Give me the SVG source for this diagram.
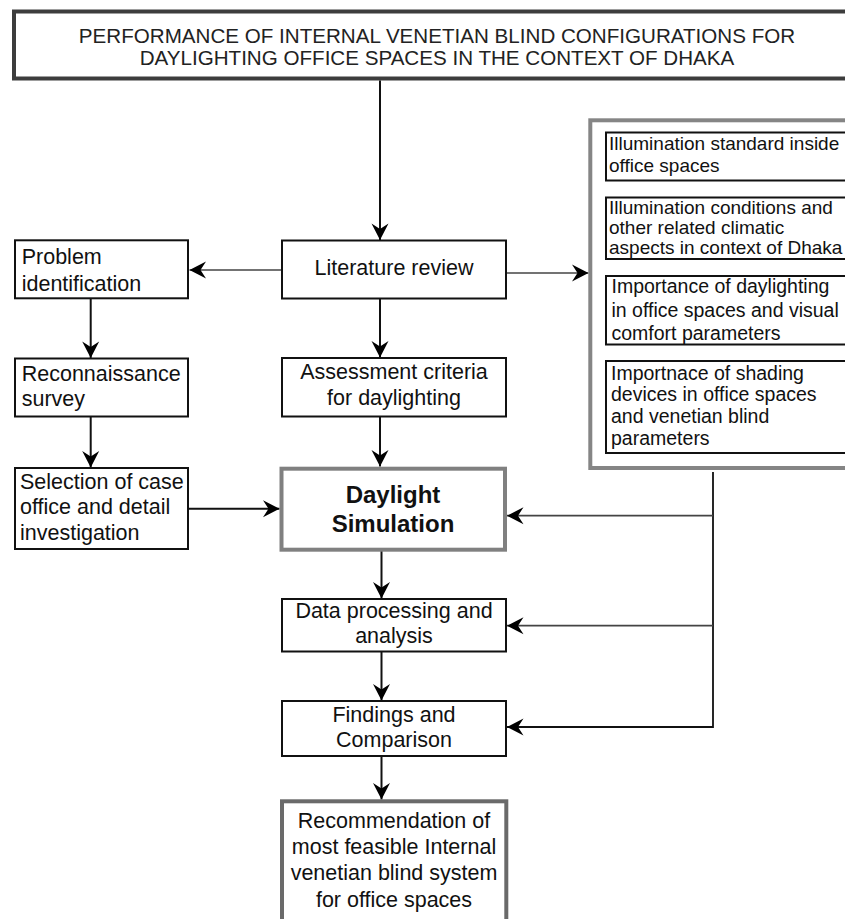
<svg xmlns="http://www.w3.org/2000/svg" width="845" height="919" viewBox="0 0 845 919">
<defs>
<marker id="arr" markerUnits="userSpaceOnUse" markerWidth="20" markerHeight="20" viewBox="-17 -10 18 20" refX="0" refY="0" orient="auto">
<path d="M0,0 L-16.5,-8.5 L-11,0 L-16.5,8.5 Z" fill="#000"/>
</marker>
</defs>
<style>
text{font-family:"Liberation Sans",Arial,sans-serif;fill:#111}
.box{fill:#fff;stroke:#111;stroke-width:2}
.gbox{fill:#fff;stroke:#808080;stroke-width:4}
.t{font-size:21.5px}
.c{text-anchor:middle}
.p{font-size:19px}
.p2{font-size:19.5px}
.ln{fill:none;stroke:#111;stroke-width:2}
.thin{fill:none;stroke:#444;stroke-width:1.4}
</style>
<rect width="845" height="919" fill="#fff"/>

<g id="title">
<rect x="14" y="11.5" width="850" height="67" fill="#fff" stroke="#3d3d3d" stroke-width="4"/>
<text x="437" y="42.7" class="c" style="font-size:20.6px;fill:#222">PERFORMANCE OF INTERNAL VENETIAN BLIND CONFIGURATIONS FOR</text>
<text x="437" y="65" class="c" style="font-size:20.6px;fill:#222">DAYLIGHTING OFFICE SPACES IN THE CONTEXT OF DHAKA</text>
</g>

<g id="connectors">
<line class="ln" x1="380" y1="80.5" x2="380" y2="240" marker-end="url(#arr)"/>
<line class="thin" x1="282" y1="270" x2="189.5" y2="270" marker-end="url(#arr)"/>
<line class="thin" x1="506" y1="273" x2="588.5" y2="273" marker-end="url(#arr)"/>
<line class="ln" x1="90.7" y1="298" x2="90.7" y2="358" marker-end="url(#arr)"/>
<line class="ln" x1="380" y1="298.5" x2="380" y2="357.5" marker-end="url(#arr)"/>
<line class="ln" x1="90.7" y1="416.5" x2="90.7" y2="467.5" marker-end="url(#arr)"/>
<line class="ln" x1="380" y1="416.5" x2="380" y2="466.5" marker-end="url(#arr)"/>
<line class="ln" x1="188" y1="508.7" x2="279.5" y2="508.7" marker-end="url(#arr)"/>
<line class="ln" x1="381.5" y1="551" x2="381.5" y2="598.5" marker-end="url(#arr)"/>
<line class="ln" x1="381.5" y1="651.5" x2="381.5" y2="700.5" marker-end="url(#arr)"/>
<line class="ln" x1="381.5" y1="756" x2="381.5" y2="799.5" marker-end="url(#arr)"/>
<path class="ln" style="stroke-width:1.8" d="M713,472 V727 H507" marker-end="url(#arr)"/>
<line class="thin" style="stroke-width:1.8" x1="713" y1="515.7" x2="507" y2="515.7" marker-end="url(#arr)"/>
<line class="thin" style="stroke-width:1.8" x1="713" y1="625.7" x2="507" y2="625.7" marker-end="url(#arr)"/>
</g>

<g id="problem">
<rect class="box" x="15" y="240.3" width="173" height="58"/>
<text class="t" x="21.7" y="264.3">Problem</text>
<text class="t" x="21.7" y="290.5">identification</text>
</g>

<g id="literature">
<rect class="box" x="282" y="240.5" width="224" height="58"/>
<text class="t c" x="394" y="275">Literature review</text>
</g>

<g id="recon">
<rect class="box" x="15" y="358.5" width="173" height="58"/>
<text class="t" x="21.7" y="380.7">Reconnaissance</text>
<text class="t" x="21.7" y="406">survey</text>
</g>

<g id="assessment">
<rect class="box" x="282" y="358" width="224" height="58.5"/>
<text class="t c" x="394" y="379.3">Assessment criteria</text>
<text class="t c" x="394" y="405">for daylighting</text>
</g>

<g id="selection">
<rect class="box" x="15" y="468" width="173" height="81"/>
<text class="t" x="20" y="489">Selection of case</text>
<text class="t" x="20" y="514.3">office and detail</text>
<text class="t" x="20" y="540">investigation</text>
</g>

<g id="simulation">
<rect class="gbox" x="281.5" y="468.7" width="223.5" height="81"/>
<text class="c" x="393" y="503.3" style="font-size:24px;font-weight:bold">Daylight</text>
<text class="c" x="393" y="531.7" style="font-size:24px;font-weight:bold">Simulation</text>
</g>

<g id="data">
<rect class="box" x="282" y="599" width="224" height="52.5"/>
<text class="t c" x="394" y="618.3">Data processing and</text>
<text class="t c" x="394" y="643.3">analysis</text>
</g>

<g id="findings">
<rect class="box" x="282" y="701" width="224" height="55"/>
<text class="t c" x="394" y="721.7">Findings and</text>
<text class="t c" x="394" y="746.7">Comparison</text>
</g>

<g id="recommendation">
<rect x="282" y="801.3" width="224.3" height="140" fill="#fff" stroke="#6a6a6a" stroke-width="4"/>
<text class="t c" x="394" y="828.3">Recommendation of</text>
<text class="t c" x="394" y="854.3">most feasible Internal</text>
<text class="t c" x="394" y="880">venetian blind system</text>
<text class="t c" x="394" y="906.7">for office spaces</text>
</g>

<g id="literature-topics">
<rect x="590.3" y="120.3" width="300" height="347.7" fill="#fff" stroke="#858585" stroke-width="4"/>
<g id="topic1">
<rect class="box" x="606" y="132.5" width="260" height="48"/>
<text class="p" x="609" y="149.5">Illumination standard inside</text>
<text class="p" x="609" y="171.5">office spaces</text>
</g>
<g id="topic2">
<rect class="box" x="606" y="197.5" width="260" height="61.5"/>
<text class="p" x="609" y="214">Illumination conditions and</text>
<text class="p" x="609" y="234">other related climatic</text>
<text class="p" x="609" y="254">aspects in context of Dhaka</text>
</g>
<g id="topic3">
<rect class="box" x="606" y="276" width="260" height="68.5"/>
<text class="p2" x="611.5" y="293">Importance of daylighting</text>
<text class="p2" x="611.5" y="316.5">in office spaces and visual</text>
<text class="p2" x="611.5" y="339.5">comfort parameters</text>
</g>
<g id="topic4">
<rect class="box" x="606" y="361" width="260" height="92"/>
<text class="p2" x="611" y="379.5">Importnace of shading</text>
<text class="p2" x="611" y="401">devices in office spaces</text>
<text class="p2" x="611" y="422.5">and venetian blind</text>
<text class="p2" x="611" y="444.5">parameters</text>
</g>
</g>
</svg>
